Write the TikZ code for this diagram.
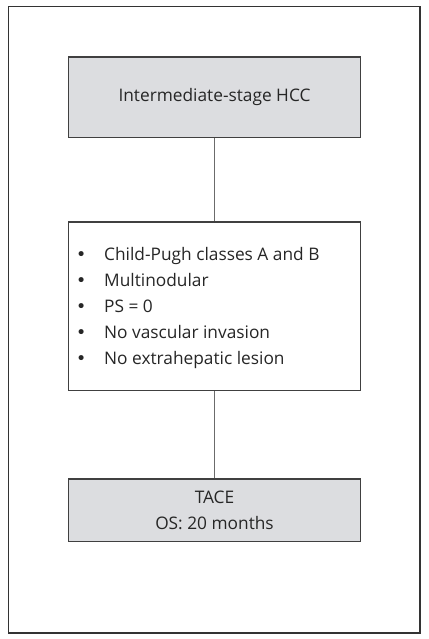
\documentclass[tikz,border=0pt]{standalone}
\usepackage{fontspec}
\setmainfont{Open Sans}
\newfontfamily\bulletfont{DejaVu Sans}
\newcommand{\itemdot}{\makebox[27.5pt][l]{\hspace{-0.6pt}{\bulletfont •}}}
\begin{document}
\begin{tikzpicture}[x=1pt,y=1pt,
  boxline/.style={draw=black!75, line width=1.3pt},
  graybox/.style={boxline, fill=boxgray, minimum width=292.4pt, inner sep=0pt, align=center, text=textgray},
  whitebox/.style={boxline, fill=white, minimum width=292.4pt, inner sep=0pt},
  link/.style={draw=black!58, line width=0.8pt},
  label/.style={font=\fontsize{17.3}{26.2}\selectfont, text=textgray}
]
\definecolor{boxgray}{RGB}{220,221,224}
\definecolor{textgray}{RGB}{38,38,38}
\useasboundingbox (0,0) rectangle (428,-639);
% outer frame
\draw[draw=black!80, line width=1.2pt] (8.3,-6.5) rectangle (420,-633);
% boxes
\node[graybox, minimum height=80.2pt, label] (stage) at (214.5,-97.2) {Intermediate-stage HCC};
\node[whitebox, minimum height=168.3pt] (criteria) at (214.5,-306.2) {};
\node[graybox, minimum height=62.6pt, label] (tace) at (214.5,-510.3) {TACE\\OS: 20 months};
% criteria list
\node[label, anchor=west, align=left, inner sep=0pt] (list) at (76.5,-308)
  {\itemdot Child-Pugh classes A and B\\
   \itemdot Multinodular\\
   \itemdot PS = 0\\
   \itemdot No vascular invasion\\
   \itemdot No extrahepatic lesion};
% connectors
\draw[link] (stage.south) -- (criteria.north);
\draw[link] (criteria.south) -- (tace.north);
\end{tikzpicture}
\end{document}
